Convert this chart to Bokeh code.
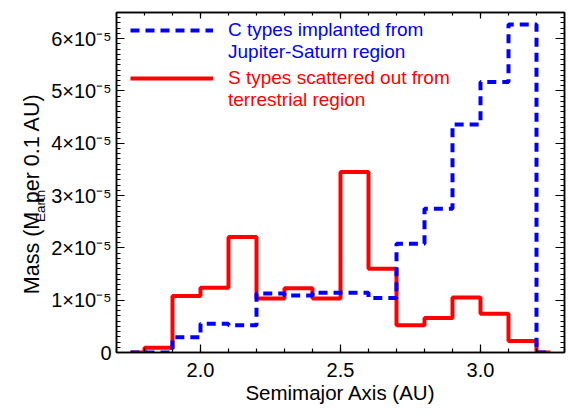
import numpy as np
from bokeh.plotting import figure
from bokeh.layouts import row
from bokeh.models import (Range1d, LinearAxis, FixedTicker, CustomJSTickFormatter,
                          Legend, LegendItem)
from bokeh.core.properties import value
from bokeh.embed import file_html
from bokeh.resources import INLINE

# ---- data ----
bin_centers = [1.75, 1.85, 1.95, 2.05, 2.15, 2.25, 2.35, 2.45,
               2.55, 2.65, 2.75, 2.85, 2.95, 3.05, 3.15, 3.25]
c_types = [0.0, 0.0, 0.29e-5, 0.55e-5, 0.52e-5, 1.13e-5, 1.09e-5, 1.14e-5,
           1.14e-5, 1.04e-5, 2.08e-5, 2.75e-5, 4.36e-5, 5.17e-5, 6.27e-5, 0.0]
s_types = [0.0, 0.09e-5, 1.08e-5, 1.24e-5, 2.21e-5, 1.03e-5, 1.23e-5, 1.03e-5,
           3.45e-5, 1.60e-5, 0.52e-5, 0.66e-5, 1.05e-5, 0.74e-5, 0.22e-5, 0.0]

x_ticks = [2.0, 2.5, 3.0]
x_labels = ["2.0", "2.5", "3.0"]
y_ticks = [0.0, 1e-5, 2e-5, 3e-5, 4e-5, 5e-5, 6e-5]
y_labels = ["0", "1×10⁻⁵", "2×10⁻⁵", "3×10⁻⁵", "4×10⁻⁵", "5×10⁻⁵", "6×10⁻⁵"]

c_label_lines = ["C types implanted from", "Jupiter-Saturn region"]
s_label_lines = ["S types scattered out from", "terrestrial region"]
x_title = "Semimajor Axis (AU)"
y_title_parts = ["Mass (M", "Earth", " per 0.1 AU)"]

FONT = "Liberation Sans"
X0, X1 = 1.7, 3.3
Y0, Y1 = 0.0, 6.5e-5
H = 415
TITLE_W = 48

# ---------- main plot ----------
p = figure(width=581 - TITLE_W, height=H, x_range=Range1d(X0, X1), y_range=Range1d(Y0, Y1),
           output_backend="svg", toolbar_location=None, x_axis_type=None, y_axis_type=None,
           min_border_left=116 - TITLE_W, min_border_right=17, min_border_top=12,
           min_border_bottom=63)
p.outline_line_color = "black"
p.outline_line_width = 1.5
p.background_fill_color = "white"
p.border_fill_color = "white"

x_minor = [round(v, 2) for v in np.arange(1.7, 3.301, 0.1)]
y_minor = [v * 1e-6 for v in range(0, 66)]

js_fmt = """
let best = 0;
for (let i = 0; i < tk.length; i++) {
  if (Math.abs(tk[i] - tick) < Math.abs(tk[best] - tick)) best = i;
}
return lb[best];
"""

def fmt(tk, lb):
    return CustomJSTickFormatter(args=dict(tk=tk, lb=lb), code=js_fmt)

def style(ax, maj, mnr, show_labels):
    ax.axis_line_color = "black"
    ax.axis_line_width = 1.5
    ax.major_tick_in = maj
    ax.major_tick_out = 0
    ax.minor_tick_in = mnr
    ax.minor_tick_out = 0
    ax.major_tick_line_width = 1.2
    ax.minor_tick_line_width = 1.2
    ax.major_tick_line_color = "black"
    ax.minor_tick_line_color = "black"
    if not show_labels:
        ax.major_label_text_font_size = "0px"
        ax.major_label_standoff = 0
    else:
        ax.major_label_text_font = FONT
        ax.major_label_text_font_size = "20px"
        ax.major_label_text_color = "black"

xb = LinearAxis(ticker=FixedTicker(ticks=x_ticks, minor_ticks=x_minor),
                formatter=fmt(x_ticks, x_labels), axis_label=x_title)
style(xb, 8, 4, True)
xb.major_label_standoff = 10
xb.axis_label_standoff = 1
xb.axis_label_text_font = FONT
xb.axis_label_text_font_size = "20.5px"
xb.axis_label_text_font_style = "normal"
xb.axis_label_text_color = "black"
p.add_layout(xb, "below")

xt = LinearAxis(ticker=FixedTicker(ticks=x_ticks, minor_ticks=x_minor),
                formatter=fmt(x_ticks, ["", "", ""]))
style(xt, 6, 3, False)
p.add_layout(xt, "above")

yl = LinearAxis(ticker=FixedTicker(ticks=y_ticks, minor_ticks=y_minor),
                formatter=fmt(y_ticks, y_labels))
style(yl, 8, 4, True)
yl.major_label_standoff = 5
p.add_layout(yl, "left")

yr = LinearAxis(ticker=FixedTicker(ticks=y_ticks, minor_ticks=y_minor),
                formatter=fmt(y_ticks, [""] * 7))
style(yr, 9, 4, False)
p.add_layout(yr, "right")

# ---- histograms (IDL psym=10 style: centred steps) ----
red = p.step(bin_centers, s_types, mode="center", line_color="#ff0000", line_width=4)
blue = p.step(bin_centers, c_types, mode="center", line_color="#0000ff", line_width=4,
              line_dash="9 6")

def make_legend(r, lines, color, loc):
    items = [LegendItem(label=lines[0], renderers=[r]),
             LegendItem(label=lines[1], renderers=[])]
    return Legend(items=items, location=loc,
                  glyph_width=83, glyph_height=20, label_height=20, label_standoff=15,
                  label_text_font=FONT, label_text_font_size="19px", label_text_color=color,
                  label_text_baseline="alphabetic",
                  border_line_color=None, background_fill_alpha=0,
                  padding=0, margin=0, spacing=-6)

p.add_layout(make_legend(blue, c_label_lines, "#0000ff", (14, 289)))
p.add_layout(make_legend(red, s_label_lines, "#ff0000", (14, 241)))

# ---------- y-axis title (rotated, with subscript) in a narrow strip ----------
tf = figure(width=TITLE_W, height=H, x_range=Range1d(0, TITLE_W), y_range=Range1d(0, H),
            output_backend="svg", toolbar_location=None, x_axis_type=None, y_axis_type=None,
            min_border=0)
tf.outline_line_color = None
tf.background_fill_color = "white"
tf.border_fill_color = "white"

# (text, centre x px, centre y px, font size) -- centre-anchored pieces
title_specs = [(y_title_parts[0], 31.5, 293.5, "21.5px"),
               (y_title_parts[1], 40.0, 236.0, "13.5px"),
               (y_title_parts[2], 31.5, 162.0, "21.5px")]
for txt, cx, cy, fs in title_specs:
    tf.text(x=[cx], y=[H - cy], text=[txt], angle=np.pi / 2,
            text_font=value(FONT), text_font_size=fs, text_align="center",
            text_baseline="middle", text_color="black")

layout = row(tf, p)
open("out.html", "w").write(file_html(layout, INLINE))
